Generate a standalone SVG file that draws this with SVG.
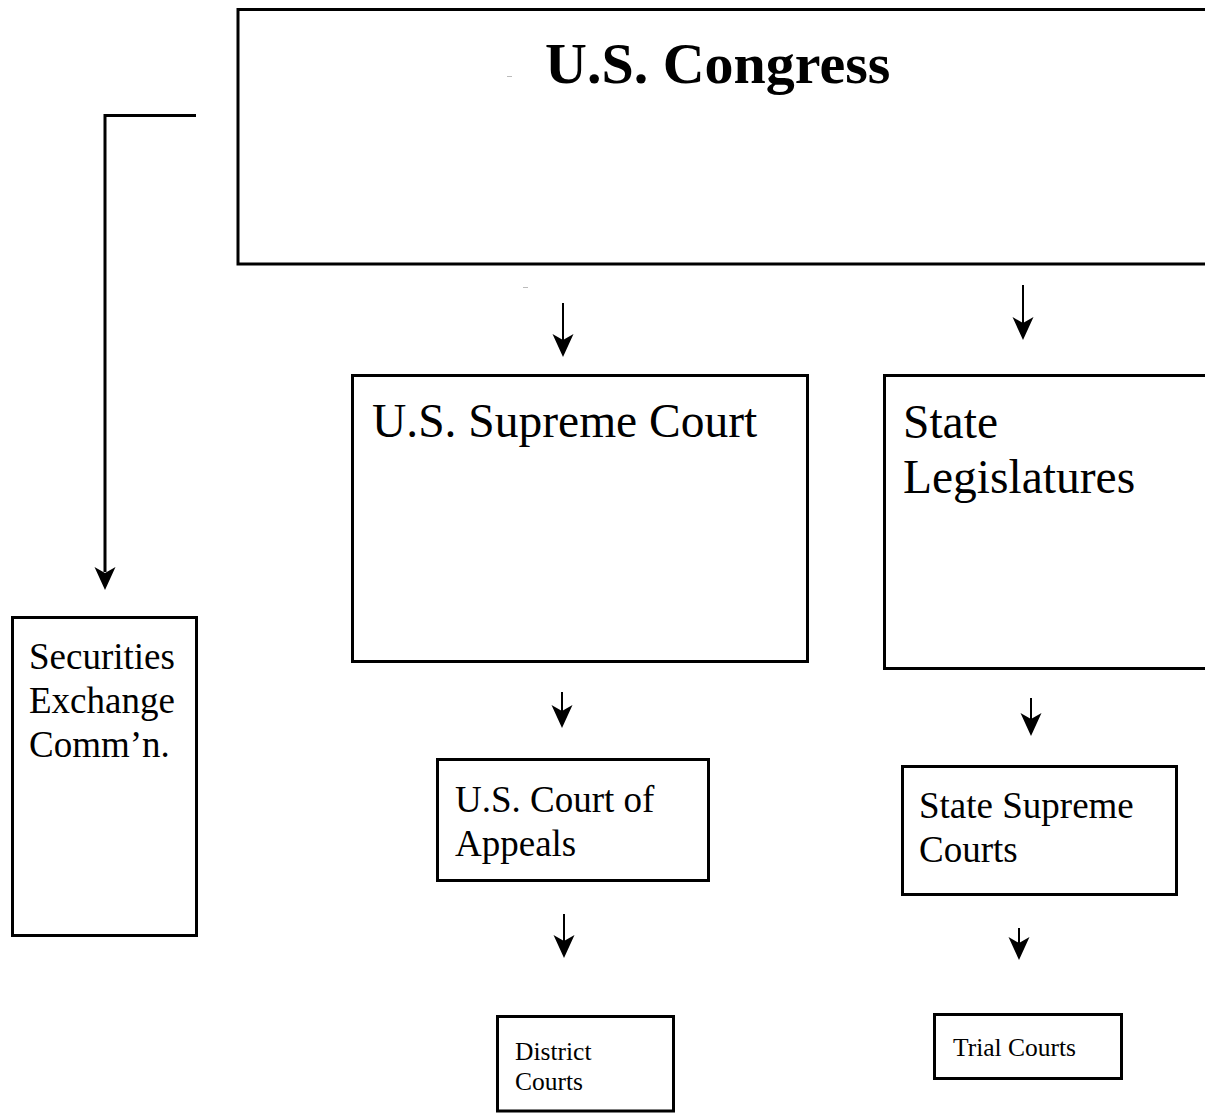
<svg xmlns="http://www.w3.org/2000/svg" xmlns:xlink="http://www.w3.org/1999/xlink" width="1205" height="1113" viewBox="0 0 1205 1113">
<style>
.box{fill:#fff;stroke:#000;stroke-width:3}
.t{font-family:"Liberation Serif","Times New Roman",serif;fill:#000}
.conn{fill:none;stroke:#000;stroke-width:2}
.conn3{fill:none;stroke:#000;stroke-width:3}
.speck{stroke:#bbb;stroke-width:1}
</style>
<defs>
<path id="ah" d="M0,0 L-10.5,-23 L0,-17 L10.5,-23 Z" fill="#000"/>
</defs>
<rect width="1205" height="1113" fill="#fff"/>
<g id="congress">
<rect class="box" x="238" y="9.5" width="980" height="254.5"/>
<text class="t" x="545" y="83" font-size="58" font-weight="bold">U.S. Congress</text>
</g>
<g id="supreme-court">
<rect class="box" x="352.5" y="375.5" width="455" height="286"/>
<text class="t" x="372" y="437" font-size="47.5">U.S. Supreme Court</text>
</g>
<g id="state-legislatures">
<rect class="box" x="884.5" y="375.5" width="330" height="293"/>
<text class="t" x="903" y="438" font-size="47.5">State</text>
<text class="t" x="903" y="493" font-size="47.5">Legislatures</text>
</g>
<g id="sec">
<rect class="box" x="12.5" y="617.5" width="184" height="318"/>
<text class="t" x="29" y="669" font-size="37">Securities</text>
<text class="t" x="29" y="713" font-size="37">Exchange</text>
<text class="t" x="29" y="757" font-size="37">Comm’n.</text>
</g>
<g id="court-of-appeals">
<rect class="box" x="437.5" y="759.5" width="271" height="121"/>
<text class="t" x="455" y="812" font-size="37">U.S. Court of</text>
<text class="t" x="455" y="856" font-size="37">Appeals</text>
</g>
<g id="state-supreme-courts">
<rect class="box" x="902.5" y="766.5" width="274" height="128"/>
<text class="t" x="919" y="818" font-size="37">State Supreme</text>
<text class="t" x="919" y="862" font-size="37">Courts</text>
</g>
<g id="district-courts">
<rect class="box" x="497.5" y="1016.5" width="176" height="94.5"/>
<text class="t" x="515" y="1060" font-size="25.5">District</text>
<text class="t" x="515" y="1090" font-size="25.5">Courts</text>
</g>
<g id="trial-courts">
<rect class="box" x="934.5" y="1014.5" width="187" height="64"/>
<text class="t" x="953" y="1056" font-size="25.5">Trial Courts</text>
</g>
<g id="connectors">
<polyline class="conn3" points="196,115.5 105,115.5 105,572"/>
<use xlink:href="#ah" transform="translate(105,590)"/>
<line class="conn" x1="563" y1="303" x2="563" y2="345"/>
<use xlink:href="#ah" transform="translate(563,357)"/>
<line class="conn" x1="1023" y1="285" x2="1023" y2="328"/>
<use xlink:href="#ah" transform="translate(1023,340)"/>
<line class="conn" x1="562" y1="692" x2="562" y2="716"/>
<use xlink:href="#ah" transform="translate(562,728)"/>
<line class="conn" x1="564" y1="914" x2="564" y2="946"/>
<use xlink:href="#ah" transform="translate(564,958)"/>
<line class="conn" x1="1031" y1="698" x2="1031" y2="724"/>
<use xlink:href="#ah" transform="translate(1031,736)"/>
<line class="conn" x1="1019" y1="928" x2="1019" y2="948"/>
<use xlink:href="#ah" transform="translate(1019,960)"/>
</g>
<line class="speck" x1="507" y1="76.5" x2="512" y2="76.5"/>
<line class="speck" x1="523" y1="287.5" x2="528" y2="287.5"/>
</svg>
